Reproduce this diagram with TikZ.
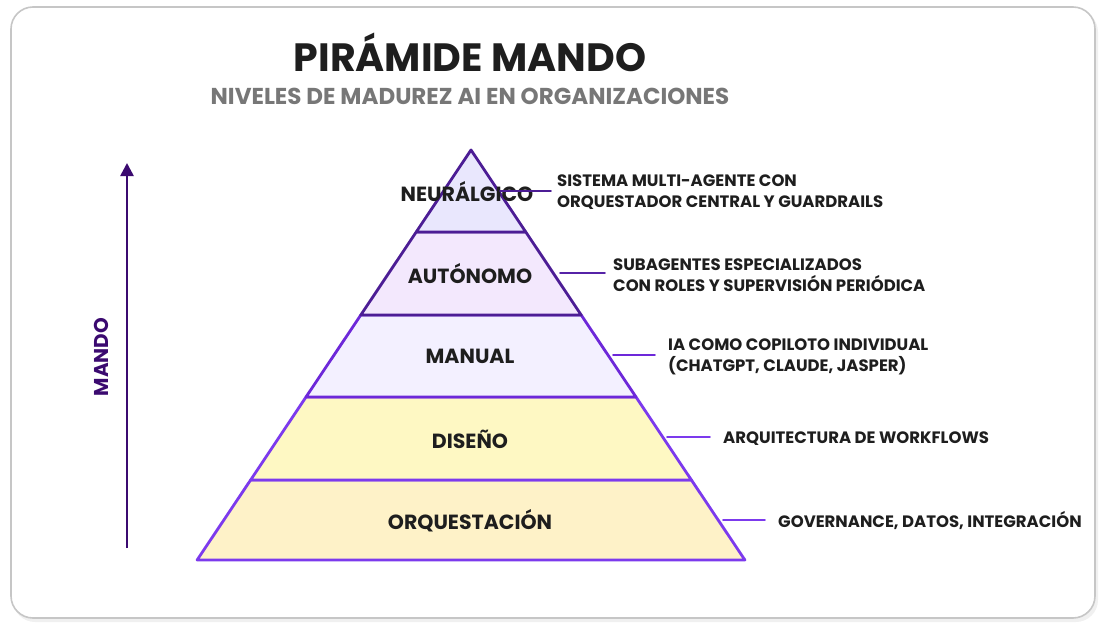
\documentclass[tikz,border=0pt]{standalone}
\usepackage{fontspec}
\setmainfont{Poppins}
\usetikzlibrary{arrows.meta,calc}
\definecolor{frame}{HTML}{C6C6C6}
\definecolor{pdark}{HTML}{4C1D95}
\definecolor{pmid}{HTML}{6D28D9}
\definecolor{pbright}{HTML}{7C3AED}
\definecolor{parrow}{HTML}{3B0A70}
\definecolor{fillA}{HTML}{E9E7FD}
\definecolor{fillB}{HTML}{F3E8FD}
\definecolor{fillC}{HTML}{F3F0FF}
\definecolor{fillD}{HTML}{FEF8C3}
\definecolor{fillE}{HTML}{FEF2C8}
\definecolor{subgray}{HTML}{777777}
\definecolor{ink}{HTML}{1E1E1E}
\tikzset{
  layer/.style={line width=2.8pt, line join=round},
  lvl/.style={font=\fontsize{20.5}{24}\selectfont\bfseries, text=ink, inner sep=0pt},
  desc/.style={font=\fontsize{16.5}{21}\selectfont\bfseries, text=ink, align=left, anchor=west, inner sep=0pt},
  conn/.style={line width=1.6pt, line cap=round},
}
\begin{document}
\begin{tikzpicture}[x=1pt,y=-1pt]
\useasboundingbox (0,0) rectangle (1106,634);
% frame with soft shadow
\fill[black!6, rounded corners=22pt] (13,10) rectangle (1098,622);
\filldraw[fill=white, draw=frame, line width=1.6pt, rounded corners=22pt] (11,7) rectangle (1095,618);
% title
\node[font=\fontsize{39.5}{44}\selectfont\bfseries, text=ink, inner sep=0pt] (title) at (470,52) {PIRÁMIDE MANDO};
\node[font=\fontsize{23}{26}\selectfont\bfseries, text=subgray, inner sep=0pt] (subtitle) at (470,96) {NIVELES DE MADUREZ AI EN ORGANIZACIONES};
% pyramid layers (bottom to top)
\filldraw[layer, fill=fillE, draw=pbright] (250.6,480) -- (691.4,480) -- (744.9,560) -- (197.1,560) -- cycle;
\filldraw[layer, fill=fillD, draw=pbright] (306.0,397) -- (636.0,397) -- (691.4,480) -- (250.6,480) -- cycle;
\filldraw[layer, fill=fillC, draw=pmid] (360.8,315) -- (581.2,315) -- (636.0,397) -- (306.0,397) -- cycle;
\filldraw[layer, fill=fillB, draw=pdark] (416.2,232) -- (525.8,232) -- (581.2,315) -- (360.8,315) -- cycle;
\filldraw[layer, fill=fillA, draw=pdark] (471,150) -- (525.8,232) -- (416.2,232) -- cycle;
% layer labels
\node[lvl] (l1) at (467,192) {NEURÁLGICO};
\node[lvl] (l2) at (470,274) {AUTÓNOMO};
\node[lvl] (l3) at (470,356) {MANUAL};
\node[lvl] (l4) at (470,439) {DISEÑO};
\node[lvl] (l5) at (470,521) {ORQUESTACIÓN};
% edge anchor points
\coordinate (e1) at (500,191);
\coordinate (e2) at (560,273);
\coordinate (e3) at (613,355);
\coordinate (e4) at (667,437);
\coordinate (e5) at (723,520);
% descriptions
\node[desc] (d1) at (557,192.5) {SISTEMA MULTI-AGENTE CON\\ORQUESTADOR CENTRAL Y GUARDRAILS};
\node[desc] (d2) at (613,275.5) {SUBAGENTES ESPECIALIZADOS\\CON ROLES Y SUPERVISIÓN PERIÓDICA};
\node[desc] (d3) at (668,357) {IA COMO COPILOTO INDIVIDUAL\\(CHATGPT, CLAUDE, JASPER)};
\node[desc] (d4) at (723,439) {ARQUITECTURA DE WORKFLOWS};
\node[desc] (d5) at (778,521) {GOVERNANCE, DATOS, INTEGRACIÓN};
% connectors
\draw[conn, draw=pdark] (e1) -- ([xshift=-6pt]d1.west |- e1);
\draw[conn, draw=pdark!80!pbright] (e2) -- ([xshift=-8pt]d2.west |- e2);
\draw[conn, draw=pmid] (e3) -- ([xshift=-13pt]d3.west |- e3);
\draw[conn, draw=pbright] (e4) -- ([xshift=-13pt]d4.west |- e4);
\draw[conn, draw=pbright] (e5) -- ([xshift=-13pt]d5.west |- e5);
% axis arrow
\coordinate (abot) at (127,548);
\coordinate (atop) at (127,163);
\draw[line width=2.6pt, draw=parrow, -{Triangle[length=13pt,width=13pt]}] (abot) -- (atop);
\node[font=\fontsize{20}{24}\selectfont\bfseries, text=parrow, rotate=90, inner sep=0pt] (mando) at (101,357) {MANDO};
\end{tikzpicture}
\end{document}
